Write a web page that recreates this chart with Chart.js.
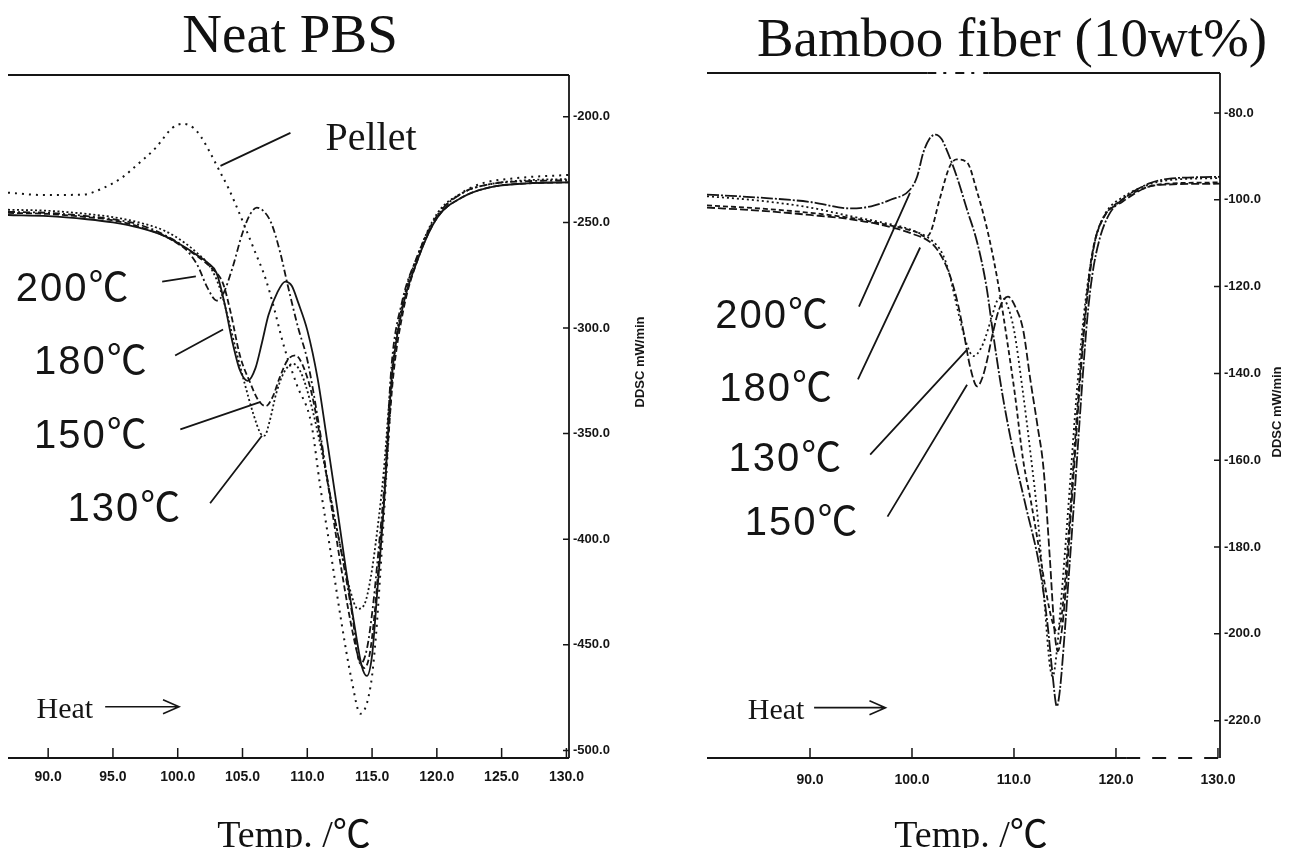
<!DOCTYPE html>
<html>
<head>
<meta charset="utf-8">
<script src="https://cdn.jsdelivr.net/npm/chart.js@4.4.0/dist/chart.umd.min.js"></script>
<style>
html, body { margin: 0; padding: 0; background: #fff; }
#wrap { position: relative; width: 1303px; height: 848px; overflow: hidden; }
canvas { position: absolute; top: 0; }
#pbs { left: 0; }
#bamboo { left: 660px; }
.txt { position: absolute; white-space: nowrap; color: #111; transform: translate(-50%, -50%);
       font-family: "Liberation Serif", "Times New Roman", "Noto Sans CJK JP", serif; }
</style>
</head>
<body>
<div id="wrap">
  <canvas id="pbs" width="660" height="848"></canvas>
  <canvas id="bamboo" width="643" height="848"></canvas>
  <div class="txt" style="left:290px; top:33px; font-size:55px;">Neat PBS</div>
  <div class="txt" style="left:1012px; top:37px; font-size:55px;">Bamboo fiber (10wt%)</div>
  <div class="txt" style="left:294px; top:830px; font-size:38px;">Temp. /℃</div>
  <div class="txt" style="left:971px; top:830px; font-size:38px;">Temp. /℃</div>
</div>
<script>
// ---- Neat PBS (left panel), temperature °C vs DDSC mW/min ----
const pbsTempTicks = [90, 95, 100, 105, 110, 115, 120, 125, 130];
const pbsDdscTicks = [-200, -250, -300, -350, -400, -450, -500];

const pbsPelletT = [86.9, 89.5, 92.6, 94.3, 95.7, 96.7, 98.3, 99.6, 100.4, 101.2, 101.8, 102.5, 103.3, 103.9, 104.8, 105.9, 106.8, 107.4, 108.2, 109.2, 110.3, 111.0, 111.8, 112.6, 113.4, 114.1, 114.9, 115.3, 115.7, 116.1, 116.6, 117.4, 118.5, 120.0, 121.8, 123.5, 126.2, 130.2];
const pbsPelletY = [-235.9, -237.0, -236.9, -233.6, -228.8, -223.6, -214.7, -205.2, -203.3, -205.2, -209.5, -217.0, -226.5, -233.6, -246.3, -262.9, -277.0, -289.8, -308.7, -327, -345, -375, -406, -438, -466, -482.6, -469, -445.7, -410, -370, -320, -288, -266, -247, -236.5, -231.5, -229, -227.5];

const pbs200T = [86.9, 90, 93, 95, 97, 99, 100.5, 101.5, 102.3, 103.0, 103.5, 104.2, 105.0, 105.6, 106.1, 106.6, 107.2, 107.9, 108.5, 109.3, 110.0, 110.9, 111.7, 112.6, 113.4, 114.1, 114.6, 115.1, 115.5, 116.0, 116.5, 117.3, 118.5, 120.0, 122.0, 124.0, 127.0, 130.2];
const pbs200Y = [-245, -245.5, -247, -248.5, -251, -256, -262, -270, -281, -287, -284, -272, -255, -246, -243, -244.5, -250, -264, -280, -300, -315, -346, -377, -405, -433, -459, -452, -430, -405, -370, -318, -288, -266, -247, -236, -232, -230.5, -230];

const pbs180T = [86.9, 90, 93, 95, 97, 99, 100.5, 101.5, 102.3, 103.0, 103.6, 104.2, 104.8, 105.4, 106.0, 106.5, 107.0, 107.7, 108.3, 108.8, 109.3, 110.0, 110.8, 111.5, 112.3, 113.0, 113.7, 114.2, 114.6, 115.0, 115.4, 115.9, 116.5, 117.3, 118.5, 120.0, 122.0, 124.0, 127.0, 130.2];
const pbs180Y = [-246.5, -247, -248.5, -250, -252.5, -256.5, -261.5, -265.5, -269, -274, -288, -306, -320, -325, -319, -307, -294, -283, -278, -280, -288, -301, -324, -352, -385, -415, -443, -460, -464.7, -455, -425, -385, -325, -292, -268, -248, -238, -233.5, -231.5, -231];

const pbs150T = [86.9, 90, 93, 95, 97, 99, 100.5, 101.5, 102.5, 103.5, 104.1, 104.8, 105.6, 106.2, 106.8, 107.3, 107.9, 108.5, 109.1, 109.6, 110.3, 111.0, 111.8, 112.6, 113.4, 114.0, 114.4, 114.8, 115.2, 115.6, 116.0, 116.6, 117.4, 118.5, 120.0, 122.0, 124.0, 127.0, 130.2];
const pbs150Y = [-245.5, -246, -247.5, -249, -252, -256.5, -262, -266, -271, -279, -293, -313, -326, -334, -337, -333, -323, -315, -313, -317, -330, -352, -382, -413, -441, -457, -461, -455, -435, -405, -375, -325, -292, -268, -248, -238, -233.5, -231.5, -231];

const pbs130T = [86.9, 90, 93, 95, 97, 99, 100.5, 101.5, 102.5, 103.3, 104.0, 104.6, 105.2, 105.8, 106.4, 106.7, 107.1, 107.6, 108.2, 108.9, 109.5, 110.2, 111.0, 111.8, 112.6, 113.3, 113.9, 114.4, 114.9, 115.4, 115.9, 116.5, 117.3, 118.5, 120.0, 122.0, 124.0, 127.0, 130.2];
const pbs130Y = [-244, -244.5, -246, -247.5, -250, -254, -259.5, -264.5, -271, -282, -298, -313, -327, -340, -350, -351, -344, -331, -321, -317, -321, -334, -355, -380, -405, -424, -433, -431, -418, -396, -368, -322, -290, -266, -246, -236, -232, -230, -229.5];

// ---- Bamboo fiber 10wt% (right panel) ----
const bfTempTicks = [90, 100, 110, 120, 130];
const bfDdscTicks = [-80, -100, -120, -140, -160, -180, -200, -220];

const bf200T = [79.9, 85, 90, 94, 96, 97.9, 99.8, 100.5, 101.1, 101.7, 102.3, 102.9, 103.4, 104.4, 105.4, 106.4, 107.3, 107.9, 108.9, 109.9, 111.2, 112.5, 113.3, 113.8, 114.2, 114.5, 114.9, 115.3, 115.7, 116.2, 116.7, 117.2, 117.7, 118.4, 119.3, 120.6, 123.2, 125.1, 130.2];
const bf200Y = [-98.8, -99.5, -100.5, -102, -101.5, -100, -97.7, -94.7, -89.2, -86, -85, -86, -88.5, -94.7, -102.3, -109.9, -120, -130, -145.3, -157.6, -171, -184.5, -198, -209.8, -216.7, -213, -202, -189, -176, -159, -142, -127, -117, -109, -103.5, -100, -96.3, -95.2, -94.7];

const bf180T = [79.9, 85, 90, 94, 97, 99, 100.5, 101.3, 101.8, 102.7, 103.7, 104.4, 105.4, 106.4, 107.3, 108.0, 108.6, 109.3, 110.1, 110.9, 111.7, 112.5, 113.2, 113.8, 114.2, 114.6, 115.0, 115.5, 116.0, 116.5, 117.1, 117.7, 118.6, 120.6, 123.2, 125.1, 130.2];
const bf180Y = [-101.3, -102, -103, -104.2, -105.5, -106.5, -107.5, -108.5, -107.6, -100, -92.3, -90.7, -91.4, -98.3, -106.1, -113.7, -121.4, -132, -145, -160, -170, -181, -191, -197.5, -199.4, -197, -188, -172, -155, -139, -123, -112, -105, -100, -97, -96.3, -96];

const bf130T = [79.9, 85, 90, 94, 97, 100, 102, 103, 103.6, 104.2, 104.8, 105.4, 106.0, 106.4, 107.0, 107.7, 108.3, 108.8, 109.3, 110.0, 110.8, 111.6, 112.4, 113.0, 113.5, 113.8, 114.2, 114.6, 115.1, 115.6, 116.1, 116.7, 117.3, 118.0, 119.0, 120.6, 123.2, 125.1, 130.2];
const bf130Y = [-99.2, -100.2, -101.8, -103.8, -105.2, -107, -109.5, -112.5, -116.5, -122.5, -128.5, -133.5, -136, -135.5, -133, -128, -123.5, -122.5, -124, -130, -143, -158, -175, -193, -207, -209.8, -204, -193, -178, -162, -146, -130, -118, -109, -103, -99.5, -96.5, -95.5, -95];

const bf150T = [79.9, 85, 90, 94, 97, 100, 102, 103, 103.8, 104.5, 105.1, 105.7, 106.4, 106.9, 107.3, 107.9, 108.5, 109.4, 110.2, 110.9, 111.6, 112.3, 112.9, 113.5, 114.0, 114.3, 114.7, 115.1, 115.5, 116.0, 116.6, 117.2, 117.9, 118.8, 120.6, 123.2, 125.1, 130.2];
const bf150Y = [-101.8, -102.5, -103.5, -104.5, -105.8, -107.8, -110.2, -113.5, -118, -124, -131, -138.5, -143, -141, -137.6, -131, -125.5, -122.3, -125, -130, -141.4, -152, -162, -182, -200, -204, -199, -189, -175, -158, -138, -122, -110, -104, -100.5, -97, -96.5, -96.3];

const INK = '#151515';
const SANS = '"Liberation Sans", Arial, "Noto Sans CJK JP", sans-serif';
const SERIF = '"Liberation Serif", "Times New Roman", "Noto Sans CJK JP", serif';
const NARROW = '"Liberation Sans Narrow", "Liberation Sans", Arial, sans-serif';

function pts(t, y) {
    return t.map((v, i) => ({ x: v, y: y[i] }));
}

// frame: top line, axis lines, inside ticks, rotated y title
function framePlugin(cfg) {
    return {
        id: 'frame',
        afterDraw(chart) {
            const { ctx, chartArea: a, scales: { x, y } } = chart;
            ctx.save();
            ctx.strokeStyle = INK;
            ctx.lineWidth = 1.8;

            // top border, broken in the middle like the scan on the right panel
            if (cfg.topBreak) {
                const b0 = x.getPixelForValue(cfg.topBreak[0]);
                const b1 = x.getPixelForValue(cfg.topBreak[1]);
                ctx.beginPath();
                ctx.moveTo(a.left, a.top); ctx.lineTo(b0, a.top);
                ctx.moveTo(b1, a.top); ctx.lineTo(a.right, a.top);
                ctx.stroke();
                ctx.setLineDash([9, 7, 3, 9]);
                ctx.beginPath();
                ctx.moveTo(b0, a.top); ctx.lineTo(b1, a.top);
                ctx.stroke();
                ctx.setLineDash([]);
            } else {
                ctx.beginPath();
                ctx.moveTo(a.left, a.top); ctx.lineTo(a.right, a.top);
                ctx.stroke();
            }
            ctx.beginPath();
            ctx.moveTo(a.right, a.top); ctx.lineTo(a.right, a.bottom);
            ctx.stroke();

            const dashFrom = cfg.bottomDashFrom ? x.getPixelForValue(cfg.bottomDashFrom) : a.right;
            ctx.beginPath();
            ctx.moveTo(a.left, a.bottom); ctx.lineTo(dashFrom, a.bottom);
            ctx.stroke();
            if (dashFrom < a.right) {
                ctx.setLineDash([14, 12]);
                ctx.beginPath();
                ctx.moveTo(dashFrom, a.bottom); ctx.lineTo(a.right, a.bottom);
                ctx.stroke();
                ctx.setLineDash([]);
            }

            ctx.lineWidth = 1.5;
            ctx.beginPath();
            x.ticks.forEach(t => {
                const px = x.getPixelForValue(t.value);
                ctx.moveTo(px, a.bottom); ctx.lineTo(px, a.bottom - 10);
            });
            y.ticks.forEach(t => {
                const py = y.getPixelForValue(t.value);
                ctx.moveTo(a.right - 6, py); ctx.lineTo(a.right, py);
            });
            ctx.stroke();

            ctx.fillStyle = INK;
            ctx.font = 'bold 13px ' + SANS;
            ctx.textAlign = 'center';
            ctx.textBaseline = 'middle';
            ctx.translate(cfg.titleX, cfg.titleY);
            ctx.rotate(-Math.PI / 2);
            ctx.fillText('DDSC mW/min', 0, 0);
            ctx.restore();
        }
    };
}

// curve labels with leader lines and the "Heat" arrow, placed in data units
function notesPlugin(notes) {
    return {
        id: 'notes',
        afterDraw(chart) {
            const { ctx, scales: { x, y } } = chart;
            ctx.save();
            ctx.strokeStyle = INK;
            ctx.fillStyle = INK;
            ctx.lineWidth = 1.8;
            ctx.beginPath();
            notes.leaders.forEach(l => {
                ctx.moveTo(x.getPixelForValue(l[0]), y.getPixelForValue(l[1]));
                ctx.lineTo(x.getPixelForValue(l[2]), y.getPixelForValue(l[3]));
            });
            ctx.stroke();

            ctx.textAlign = 'left';
            ctx.textBaseline = 'middle';
            notes.labels.forEach(l => {
                ctx.font = l.font;
                ctx.letterSpacing = l.spacing || '0px';
                ctx.fillText(l.text, x.getPixelForValue(l.x), y.getPixelForValue(l.y));
            });
            ctx.letterSpacing = '0px';

            const h = notes.heat;
            ctx.font = '30px ' + SERIF;
            ctx.fillText('Heat', x.getPixelForValue(h.x), y.getPixelForValue(h.y));
            const x1 = x.getPixelForValue(h.a1), x2 = x.getPixelForValue(h.a2), ay = y.getPixelForValue(h.ay);
            ctx.lineWidth = 1.6;
            ctx.beginPath();
            ctx.moveTo(x1, ay); ctx.lineTo(x2, ay);
            ctx.moveTo(x2 - 16, ay - 7); ctx.lineTo(x2, ay); ctx.lineTo(x2 - 16, ay + 7);
            ctx.stroke();
            ctx.restore();
        }
    };
}

function dscChart(id, series, cfg) {
    const tickFont = { family: NARROW, size: 14, weight: 'bold' };
    return new Chart(document.getElementById(id), {
        type: 'line',
        data: {
            datasets: series.map(s => ({
                label: s.label,
                data: pts(s.t, s.y),
                borderColor: INK,
                borderWidth: s.width || 1.8,
                borderDash: s.dash,
                pointRadius: 0,
                fill: false,
                cubicInterpolationMode: 'monotone'
            }))
        },
        options: {
            responsive: false,
            animation: false,
            devicePixelRatio: 1,
            events: [],
            layout: { padding: cfg.pad },
            plugins: { legend: { display: false }, tooltip: { enabled: false } },
            scales: {
                x: {
                    type: 'linear',
                    min: cfg.xRange[0],
                    max: cfg.xRange[1],
                    afterFit: s => { s.height = cfg.xAxisH; },
                    afterBuildTicks: s => { s.ticks = cfg.xTicks.map(v => ({ value: v })); },
                    grid: { display: false, drawTicks: false },
                    border: { display: false },
                    ticks: {
                        color: INK, font: tickFont, padding: cfg.xTickPad,
                        autoSkip: false, maxRotation: 0,
                        callback: v => v.toFixed(1)
                    }
                },
                y: {
                    type: 'linear',
                    position: 'right',
                    min: cfg.yRange[0],
                    max: cfg.yRange[1],
                    afterFit: s => { s.width = cfg.yAxisW; },
                    afterBuildTicks: s => { s.ticks = cfg.yTicks.map(v => ({ value: v })); },
                    grid: { display: false, drawTicks: false },
                    border: { display: false },
                    ticks: {
                        color: INK, font: { family: NARROW, size: 13, weight: 'bold' }, padding: 4,
                        autoSkip: false,
                        callback: v => v.toFixed(1)
                    }
                }
            }
        },
        plugins: [framePlugin(cfg), notesPlugin(cfg.notes)]
    });
}

const labelFont = '40px ' + SANS;
const gap = '2px';

dscChart('pbs', [
    { label: 'Pellet', t: pbsPelletT, y: pbsPelletY, dash: [2, 5], width: 2 },
    { label: '200℃', t: pbs200T, y: pbs200Y, dash: [7, 3, 2, 3] },
    { label: '180℃', t: pbs180T, y: pbs180Y, dash: [] },
    { label: '150℃', t: pbs150T, y: pbs150Y, dash: [6, 3] },
    { label: '130℃', t: pbs130T, y: pbs130Y, dash: [2, 2.5] }
], {
    pad: { left: 8, top: 75, right: 0, bottom: 0 },
    xAxisH: 90, yAxisW: 91, xTickPad: 11,
    xRange: [86.9, 130.2], yRange: [-503.6, -180.2],
    xTicks: pbsTempTicks, yTicks: pbsDdscTicks,
    titleX: 640, titleY: 362,
    notes: {
        leaders: [
            [103.3, -223.2, 108.7, -207.6],
            [98.8, -278, 101.4, -275.6],
            [99.8, -313, 103.5, -300.7],
            [100.2, -348, 106.4, -335],
            [102.5, -383, 106.5, -351]
        ],
        labels: [
            { text: 'Pellet', x: 111.4, y: -210.9, font: '40px ' + SERIF },
            { text: '200℃', x: 87.5, y: -281.8, font: labelFont, spacing: gap },
            { text: '180℃', x: 88.9, y: -316.7, font: labelFont, spacing: gap },
            { text: '150℃', x: 88.9, y: -351.7, font: labelFont, spacing: gap },
            { text: '130℃', x: 91.5, y: -386.2, font: labelFont, spacing: gap }
        ],
        heat: { x: 89.1, y: -480.7, a1: 94.4, a2: 100.1, ay: -479.3 }
    }
});

dscChart('bamboo', [
    { label: '200℃', t: bf200T, y: bf200Y, dash: [12, 2, 2, 2] },
    { label: '180℃', t: bf180T, y: bf180Y, dash: [5, 3] },
    { label: '130℃', t: bf130T, y: bf130Y, dash: [2, 3] },
    { label: '150℃', t: bf150T, y: bf150Y, dash: [8, 3] }
], {
    pad: { left: 47, top: 73, right: 0, bottom: 0 },
    xAxisH: 90, yAxisW: 83, xTickPad: 14,
    xRange: [79.9, 130.2], yRange: [-228.6, -70.8],
    xTicks: bfTempTicks, yTicks: bfDdscTicks,
    bottomDashFrom: 121,
    topBreak: [101.5, 107.5],
    titleX: 617, titleY: 412,
    notes: {
        leaders: [
            [94.8, -124.6, 99.8, -98.4],
            [94.7, -141.4, 100.8, -111],
            [95.9, -158.7, 105.4, -134.5],
            [97.6, -173, 105.4, -142.6]
        ],
        labels: [
            { text: '200℃', x: 80.7, y: -126.9, font: labelFont, spacing: gap },
            { text: '180℃', x: 81.1, y: -143.8, font: labelFont, spacing: gap },
            { text: '130℃', x: 82.0, y: -160.0, font: labelFont, spacing: gap },
            { text: '150℃', x: 83.6, y: -174.6, font: labelFont, spacing: gap }
        ],
        heat: { x: 83.9, y: -217.7, a1: 90.4, a2: 97.4, ay: -217 }
    }
});
</script>
</body>
</html>
